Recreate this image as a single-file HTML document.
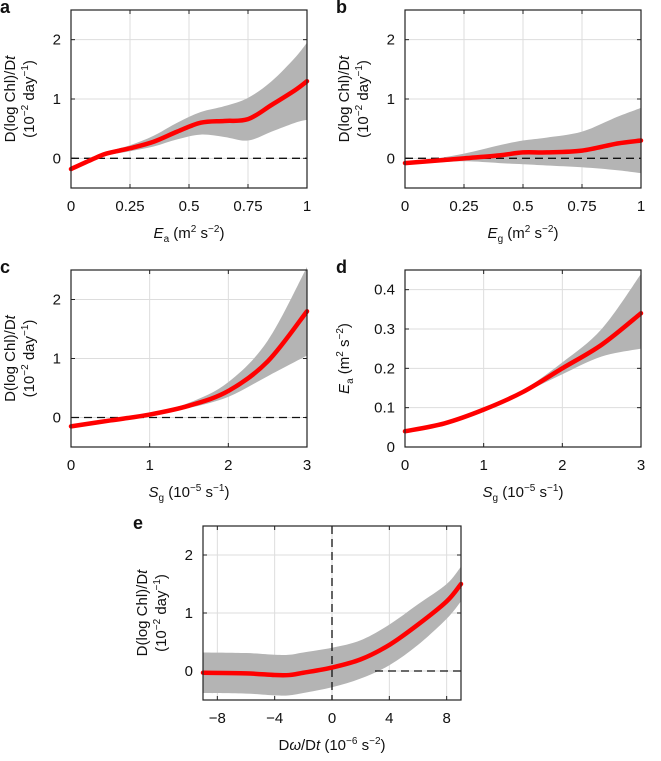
<!DOCTYPE html>
<html><head><meta charset="utf-8"><style>
body{margin:0;background:#fff}
svg text{font-family:"Liberation Sans",sans-serif;fill:#111}
</style></head><body>
<svg id="fig" width="661" height="756" xmlns="http://www.w3.org/2000/svg"></svg>
<script>
const aX=[0,0.1,0.15,0.25,0.35,0.45,0.55,0.65,0.75,0.85,0.95,1];
const aMean=[-0.18,0,0.08,0.17,0.28,0.45,0.6,0.63,0.66,0.9,1.15,1.3];
const aLo=[-0.2,-0.02,0.05,0.12,0.2,0.32,0.4,0.36,0.3,0.45,0.6,0.65];
const aHi=[-0.16,0.02,0.11,0.22,0.38,0.6,0.78,0.88,1.02,1.3,1.7,1.95];
const bX=[0,0.1,0.25,0.4,0.5,0.6,0.75,0.9,1];
const bMean=[-0.08,-0.05,0,0.05,0.1,0.1,0.13,0.25,0.3];
const bLo=[-0.1,-0.08,-0.05,-0.08,-0.1,-0.12,-0.15,-0.2,-0.25];
const bHi=[-0.05,-0.02,0.08,0.22,0.3,0.35,0.45,0.7,0.85];
const cX=[0,0.5,1,1.5,2,2.5,3];
const cMean=[-0.15,-0.05,0.05,0.2,0.45,0.95,1.8];
const cLo=[-0.17,-0.07,0.03,0.16,0.35,0.7,1.05];
const cHi=[-0.13,-0.03,0.07,0.25,0.6,1.3,2.55];
const dX=[0,0.5,1,1.5,2,2.5,3];
const dMean=[0.04,0.06,0.095,0.14,0.2,0.26,0.34];
const dLo=[0.037,0.057,0.092,0.137,0.185,0.23,0.25];
const dHi=[0.043,0.063,0.098,0.145,0.215,0.3,0.44];
const eX=[-9,-6,-4,-3,-2,0,2,4,6,8,9];
const eMean=[-0.03,-0.04,-0.07,-0.07,-0.03,0.06,0.2,0.45,0.8,1.2,1.5];
const eLo=[-0.38,-0.39,-0.42,-0.42,-0.38,-0.28,-0.13,0.1,0.45,0.9,1.2];
const eHi=[0.32,0.31,0.28,0.28,0.32,0.4,0.53,0.8,1.15,1.5,1.8];
const NS="http://www.w3.org/2000/svg";
const svg=document.getElementById('fig');
function el(t,a,p){const e=document.createElementNS(NS,t);for(const k in a)e.setAttribute(k,a[k]);(p||svg).appendChild(e);return e;}
function smooth(pts){let d='M'+pts[0][0]+','+pts[0][1];for(let i=1;i<pts.length;i++){const p0=pts[Math.max(i-2,0)],p1=pts[i-1],p2=pts[i],p3=pts[Math.min(i+1,pts.length-1)];
d+=` C${p1[0]+(p2[0]-p0[0])/6},${p1[1]+(p2[1]-p0[1])/6} ${p2[0]-(p3[0]-p1[0])/6},${p2[1]-(p3[1]-p1[1])/6} ${p2[0]},${p2[1]}`;}return d;}
// segments: [text, mode] mode: ''=normal,'i'=italic,'^'=sup,'_'=sub
function rich(segs){let cur=0,out='';segs.forEach(([t,m])=>{const target=m==='^'?-6:m==='_'?4:0;const dy=target-cur;cur=target;
 const fs=(m==='^'||m==='_')?' font-size="10"':'';const it=m==='i'?' font-style="italic"':'';
 out+=`<tspan dy="${dy}"${fs}${it}>${t}</tspan>`;});return out;}
function panel(o){
 const g=el('g',{});
 
 
 const sx=v=>o.x0+(v-o.xmin)/(o.xmax-o.xmin)*(o.x1-o.x0);
 const sy=v=>o.y1-(v-o.ymin)/(o.ymax-o.ymin)*(o.y1-o.y0);
 o.xt.forEach((t,i)=>{const l=el('line',{x1:sx(t),x2:sx(t),y1:o.y0,y2:o.y1,stroke:'#ddd','stroke-width':1},g);
  el('line',{x1:sx(t),x2:sx(t),y1:o.y1,y2:o.y1-4,stroke:'#222'},g);el('line',{x1:sx(t),x2:sx(t),y1:o.y0,y2:o.y0+4,stroke:'#222'},g);
  const tx=el('text',{x:sx(t),y:o.y1+23,'text-anchor':'middle','font-size':15},g);tx.textContent=o.xl[i];});
 o.yt.forEach((t,i)=>{const l=el('line',{x1:o.x0,x2:o.x1,y1:sy(t),y2:sy(t),stroke:'#ddd'},g);
  el('line',{x1:o.x0,x2:o.x0+4,y1:sy(t),y2:sy(t),stroke:'#222'},g);el('line',{x1:o.x1,x2:o.x1-4,y1:sy(t),y2:sy(t),stroke:'#222'},g);
  const tx=el('text',{x:o.x0-10,y:sy(t)+5,'text-anchor':'end','font-size':15},g);tx.textContent=o.yl[i];});
 const up=o.X.map((x,i)=>[sx(x),sy(o.hi[i])]),lo=o.X.map((x,i)=>[sx(x),sy(o.lo[i])]).reverse();
 const band=el('path',{d:smooth(up)+' L'+smooth(lo).slice(1)+' Z',fill:'#b4b4b4'},g);
 
 if(o.zero){const z=el('line',{x1:o.zx0!==undefined?sx(o.zx0):o.x0,x2:o.x1,y1:sy(0),y2:sy(0),stroke:'#111','stroke-width':1.3,'stroke-dasharray':'8,5'},g);}
 if(o.vzero){const z=el('line',{x1:sx(0),x2:sx(0),y1:o.y0,y2:o.y1,stroke:'#111','stroke-width':1.3,'stroke-dasharray':'8,5'},g);}
 const m=el('path',{d:smooth(o.X.map((x,i)=>[sx(x),sy(o.mean[i])])),fill:'none',stroke:'#f00','stroke-width':4.5,'stroke-linecap':'round'},g);
 
 const bx=el('rect',{x:o.x0,y:o.y0,width:o.x1-o.x0,height:o.y1-o.y0,fill:'none',stroke:'#222','stroke-width':1.2},g);
 const xl=el('text',{x:(o.x0+o.x1)/2,y:o.y1+50,'text-anchor':'middle','font-size':15},g);xl.innerHTML=o.xlab;
 const yl=el('text',{transform:`translate(${o.x0-56},${(o.y0+o.y1)/2}) rotate(-90)`,'text-anchor':'middle','font-size':15},g);yl.innerHTML=o.ylab1;
 if(o.ylab2){const y2=el('text',{transform:`translate(${o.x0-37},${(o.y0+o.y1)/2}) rotate(-90)`,'text-anchor':'middle','font-size':15},g);y2.innerHTML=o.ylab2;}
 const lt=el('text',{x:o.lx,y:o.y0+3,'font-size':18,'font-weight':'bold'},g);lt.textContent=o.id;
}
const Ylab1=rich([['D(log Chl)/D',''],['t','i']]);
const Ylab2=rich([['(10',''],['−2','^'],[' day',''],['−1','^'],[')','']]);
const Etk=[0,0.25,0.5,0.75,1],Etl=['0','0.25','0.5','0.75','1'];
const Ytk=[0,1,2],Ytl=['0','1','2'];
const Sg=rich([['S','i'],['g','_'],[' (10',''],['−5','^'],[' s',''],['−1','^'],[')','']]);
const Ea=rich([['E','i'],['a','_'],[' (m',''],['2','^'],[' s',''],['−2','^'],[')','']]);
const Eg=rich([['E','i'],['g','_'],[' (m',''],['2','^'],[' s',''],['−2','^'],[')','']]);
panel({id:'a',lx:0,x0:71,x1:307,y0:10,y1:188,xmin:0,xmax:1,ymin:-0.5,ymax:2.5,xt:Etk,xl:Etl,yt:Ytk,yl:Ytl,X:aX,mean:aMean,lo:aLo,hi:aHi,zero:true,xlab:Ea,ylab1:Ylab1,ylab2:Ylab2});
panel({id:'b',lx:336,x0:405,x1:641,y0:10,y1:188,xmin:0,xmax:1,ymin:-0.5,ymax:2.5,xt:Etk,xl:Etl,yt:Ytk,yl:Ytl,X:bX,mean:bMean,lo:bLo,hi:bHi,zero:true,xlab:Eg,ylab1:Ylab1,ylab2:Ylab2});
panel({id:'c',lx:0,x0:71,x1:307,y0:270,y1:447,xmin:0,xmax:3,ymin:-0.5,ymax:2.5,xt:[0,1,2,3],xl:['0','1','2','3'],yt:Ytk,yl:Ytl,X:cX,mean:cMean,lo:cLo,hi:cHi,zero:true,xlab:Sg,ylab1:Ylab1,ylab2:Ylab2});
panel({id:'d',lx:336,x0:405,x1:641,y0:270,y1:447,xmin:0,xmax:3,ymin:0,ymax:0.45,xt:[0,1,2,3],xl:['0','1','2','3'],yt:[0,0.1,0.2,0.3,0.4],yl:['0','0.1','0.2','0.3','0.4'],X:dX,mean:dMean,lo:dLo,hi:dHi,zero:false,xlab:Sg,ylab1:Ea});
panel({id:'e',lx:133,x0:203,x1:461,y0:526,y1:700,xmin:-9,xmax:9,ymin:-0.5,ymax:2.5,xt:[-8,-4,0,4,8],xl:['−8','−4','0','4','8'],yt:Ytk,yl:Ytl,X:eX,mean:eMean,lo:eLo,hi:eHi,zero:true,zx0:3,vzero:true,
 xlab:rich([['D',''],['ω','i'],['/D',''],['t','i'],[' (10',''],['−6','^'],[' s',''],['−2','^'],[')','']]),ylab1:Ylab1,ylab2:Ylab2});
</script>
</body></html>
